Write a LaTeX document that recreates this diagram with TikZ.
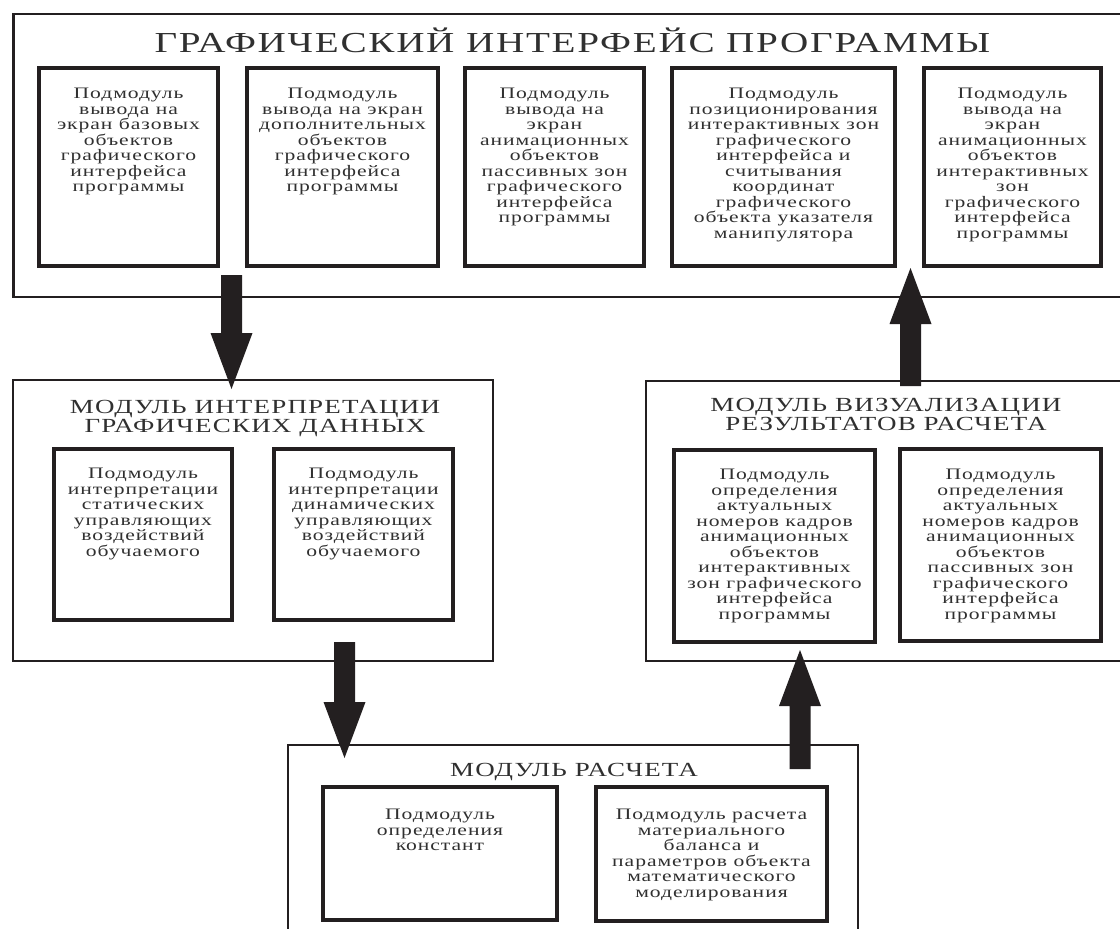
\documentclass[tikz,border=0pt]{standalone}
\usepackage{fontspec}
\setmainfont{Liberation Serif}
\newfontfamily\df[FakeStretch=1.35,LetterSpace=6]{Liberation Serif}
\usetikzlibrary{calc}
\definecolor{ink}{HTML}{231F20}
\definecolor{txt}{HTML}{303030}
\newcommand{\boxnode}[6]{%
  \node[#1, anchor=north west, minimum width={(#5)-(#3)}, minimum height={(#6)-(#4)}] (#2) at (#3,#4) {};}
\newcommand{\blockarrow}[2]{%
  \coordinate (#1-hb) at ($(#2)!56pt!(#1)$);
  \fill[arr] ($(#1)!10.5pt!90:(#2)$) -- ($(#1-hb)!10.5pt!-90:(#1)$) -- ($(#1-hb)!21pt!-90:(#1)$) -- (#2)
    -- ($(#1-hb)!21pt!90:(#1)$) -- ($(#1-hb)!10.5pt!90:(#1)$) -- ($(#1)!10.5pt!-90:(#2)$) -- cycle;}
\begin{document}
\begin{tikzpicture}[x=1pt,y=-1pt,
  obox/.style={draw=ink, line width=2.2pt, outer sep=0pt, inner sep=0pt},
  ibox/.style={draw=ink, line width=3.2pt, outer sep=0pt, inner sep=0pt},
  btext/.style={font={\df\fontsize{16}{15.5}\selectfont}, text=txt, align=center, inner sep=0pt, anchor=north},
  mtitle/.style={font={\df\fontsize{20}{19.5}\selectfont}, text=txt, align=center, inner sep=0pt, anchor=north},
  bigtitle/.style={font={\df\fontsize{29}{29}\selectfont}, text=txt, align=center, inner sep=0pt, anchor=north},
  arr/.style={fill=ink}]
\clip (0,0) rectangle (1120,929);
\fill[white] (0,0) rectangle (1120,929);

% outer modules
\boxnode{obox}{gui}{13.5}{14}{1132}{297}
\boxnode{obox}{interp}{13}{380}{493}{661}
\boxnode{obox}{vis}{646}{381}{1128}{661}
\boxnode{obox}{calcm}{288}{745}{858}{945}

% titles
\node[bigtitle] (guiT) at (572.5,28) {ГРАФИЧЕСКИЙ ИНТЕРФЕЙС ПРОГРАММЫ};
\node[mtitle] (interpT) at (255,400) {МОДУЛЬ ИНТЕРПРЕТАЦИИ\\ГРАФИЧЕСКИХ ДАННЫХ};
\node[mtitle] (visT) at (886,398) {МОДУЛЬ ВИЗУАЛИЗАЦИИ\\РЕЗУЛЬТАТОВ РАСЧЕТА};
\node[mtitle] (calcT) at (574,763) {МОДУЛЬ РАСЧЕТА};

% GUI submodules
\boxnode{ibox}{b1}{39}{68}{218}{266}
\boxnode{ibox}{b2}{247}{68}{438}{266}
\boxnode{ibox}{b3}{465}{68}{644}{266}
\boxnode{ibox}{b4}{672}{68}{895}{266}
\boxnode{ibox}{b5}{924}{68}{1101}{266}
\node[btext] (b1t) at (128.5,88) {Подмодуль\\вывода на\\экран базовых\\объектов\\графического\\интерфейса\\программы};
\node[btext] (b2t) at (342.5,88) {Подмодуль\\вывода на экран\\дополнительных\\объектов\\графического\\интерфейса\\программы};
\node[btext] (b3t) at (554.5,88) {Подмодуль\\вывода на\\экран\\анимационных\\объектов\\пассивных зон\\графического\\интерфейса\\программы};
\node[btext] (b4t) at (783.5,88) {Подмодуль\\позиционирования\\интерактивных зон\\графического\\интерфейса и\\считывания\\координат\\графического\\объекта указателя\\манипулятора};
\node[btext] (b5t) at (1012.5,88) {Подмодуль\\вывода на\\экран\\анимационных\\объектов\\интерактивных\\зон\\графического\\интерфейса\\программы};

% interpretation submodules
\boxnode{ibox}{i1}{54}{449}{232}{620}
\boxnode{ibox}{i2}{274}{449}{453}{620}
\node[btext] (i1t) at (143,468) {Подмодуль\\интерпретации\\статических\\управляющих\\воздействий\\обучаемого};
\node[btext] (i2t) at (363.5,468) {Подмодуль\\интерпретации\\динамических\\управляющих\\воздействий\\обучаемого};

% visualisation submodules
\boxnode{ibox}{v1}{674}{450}{875}{642}
\boxnode{ibox}{v2}{900}{449}{1101}{641}
\node[btext] (v1t) at (774.5,469) {Подмодуль\\определения\\актуальных\\номеров кадров\\анимационных\\объектов\\интерактивных\\зон графического\\интерфейса\\программы};
\node[btext] (v2t) at (1000.5,469) {Подмодуль\\определения\\актуальных\\номеров кадров\\анимационных\\объектов\\пассивных зон\\графического\\интерфейса\\программы};

% calculation submodules
\boxnode{ibox}{c1}{323}{787}{557}{920}
\boxnode{ibox}{c2}{596}{787}{827}{921}
\node[btext] (c1t) at (440,809) {Подмодуль\\определения\\констант};
\node[btext] (c2t) at (711.5,809) {Подмодуль расчета\\материального\\баланса и\\параметров объекта\\математического\\моделирования};

% block arrows
\coordinate (a1) at (231.5,275); \coordinate (a1e) at (231.5,389);
\coordinate (a2) at (910.5,386); \coordinate (a2e) at (910.5,268);
\coordinate (a3) at (344.5,642); \coordinate (a3e) at (344.5,758);
\coordinate (a4) at (800,769);   \coordinate (a4e) at (800,650);
\blockarrow{a1}{a1e}
\blockarrow{a2}{a2e}
\blockarrow{a3}{a3e}
\blockarrow{a4}{a4e}
\end{tikzpicture}
\end{document}
